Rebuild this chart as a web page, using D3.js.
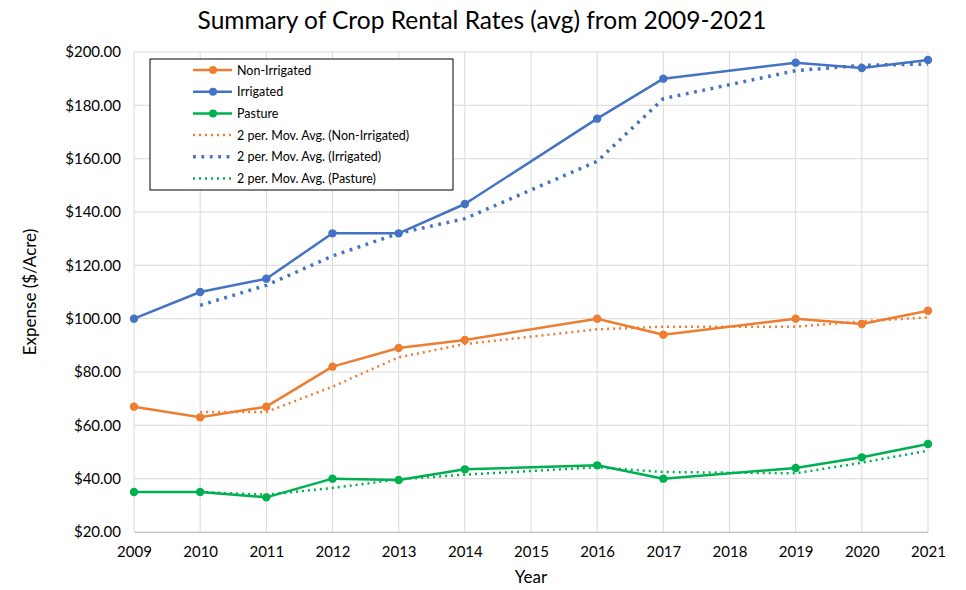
<!DOCTYPE html>
<html>
<head>
<meta charset="utf-8">
<script src="https://cdn.jsdelivr.net/npm/d3@7"></script>
<style>
  body { margin: 0; background: #fff; }
  text { font-family: Lato, "Open Sans", sans-serif; }
</style>
</head>
<body>
<div id="chart"></div>
<script>
// data (2015 and 2018 have no values)
const years = [2009, 2010, 2011, 2012, 2013, 2014, 2016, 2017, 2019, 2020, 2021];
const nonIrrigated = [67, 63, 67, 82, 89, 92, 100, 94, 100, 98, 103];
const irrigated = [100, 110, 115, 132, 132, 143, 175, 190, 196, 194, 197];
const pasture = [35, 35, 33, 40, 39.5, 43.5, 45, 40, 44, 48, 53];

// 2 period moving averages, start at 2010
const maYears = [2010, 2011, 2012, 2013, 2014, 2016, 2017, 2019, 2020, 2021];
const maNonIrrigated = [65, 65, 74.5, 85.5, 90.5, 96, 97, 97, 99, 100.5];
const maIrrigated = [105, 112.5, 123.5, 132, 137.5, 159, 182.5, 193, 195, 195.5];
const maPasture = [35, 34, 36.5, 39.75, 41.5, 44.25, 42.5, 42, 46, 50.5];

const xTicks = d3.range(2009, 2022);
const yTicks = [20, 40, 60, 80, 100, 120, 140, 160, 180, 200];

const width = 966;
const height = 590;
const margin = { top: 52, right: 38, bottom: 58, left: 134 };

const orange = "#ED7D31";
const blue = "#4472C4";
const green = "#00B050";

const svg = d3
  .select("#chart")
  .append("svg")
  .attr("width", width)
  .attr("height", height);

const x = d3
  .scaleLinear()
  .domain([2009, 2021])
  .range([margin.left, width - margin.right]);

const y = d3
  .scaleLinear()
  .domain([20, 200])
  .range([height - margin.bottom, margin.top]);

// gridlines
svg
  .append("g")
  .selectAll("line")
  .data(yTicks)
  .join("line")
  .attr("x1", x(2009))
  .attr("x2", x(2021))
  .attr("y1", (d) => y(d))
  .attr("y2", (d) => y(d))
  .attr("stroke", "#d9d9d9")
  .attr("stroke-width", 1);

svg
  .append("g")
  .selectAll("line")
  .data(xTicks)
  .join("line")
  .attr("x1", (d) => x(d))
  .attr("x2", (d) => x(d))
  .attr("y1", y(20))
  .attr("y2", y(200))
  .attr("stroke", "#d9d9d9")
  .attr("stroke-width", 1);

// axes
const xAxis = svg
  .append("g")
  .attr("transform", `translate(0, ${y(20)})`)
  .call(d3.axisBottom(x).tickValues(xTicks).tickFormat(d3.format("d")).tickSize(0).tickPadding(14));
xAxis.select(".domain").attr("stroke", "#bfbfbf");
xAxis.selectAll("text").attr("font-size", 15).attr("fill", "#000");

const yAxis = svg
  .append("g")
  .attr("transform", `translate(${x(2009)}, 0)`)
  .call(d3.axisLeft(y).tickValues(yTicks).tickFormat((d) => "$" + d3.format(".2f")(d)).tickSize(0).tickPadding(13));
yAxis.select(".domain").remove();
yAxis.selectAll("text").attr("font-size", 15).attr("fill", "#000");

// titles
svg
  .append("text")
  .text("Summary of Crop Rental Rates (avg) from 2009-2021")
  .attr("x", 482)
  .attr("y", 29)
  .attr("text-anchor", "middle")
  .attr("font-size", 24.5)
  .attr("fill", "#000");

svg
  .append("text")
  .text("Year")
  .attr("x", (x(2009) + x(2021)) / 2)
  .attr("y", 583)
  .attr("text-anchor", "middle")
  .attr("font-size", 17)
  .attr("fill", "#000");

svg
  .append("text")
  .text("Expense ($/Acre)")
  .attr("transform", `translate(36, ${(y(20) + y(200)) / 2}) rotate(-90)`)
  .attr("text-anchor", "middle")
  .attr("font-size", 17)
  .attr("fill", "#000");

const series = [
  { name: "Non-Irrigated", xs: years, values: nonIrrigated, color: orange },
  { name: "Irrigated", xs: years, values: irrigated, color: blue },
  { name: "Pasture", xs: years, values: pasture, color: green },
];

const maSeries = [
  { name: "2 per. Mov. Avg. (Non-Irrigated)", xs: maYears, values: maNonIrrigated, color: orange, w: 2.5 },
  { name: "2 per. Mov. Avg. (Irrigated)", xs: maYears, values: maIrrigated, color: blue, w: 3.5 },
  { name: "2 per. Mov. Avg. (Pasture)", xs: maYears, values: maPasture, color: green, w: 2.5 },
];

const line = d3
  .line()
  .x((d) => x(d[0]))
  .y((d) => y(d[1]));

// moving average dotted lines
maSeries.forEach((s) => {
  svg
    .append("path")
    .datum(s.xs.map((yr, i) => [yr, s.values[i]]))
    .attr("fill", "none")
    .attr("stroke", s.color)
    .attr("stroke-width", s.w)
    .attr("stroke-dasharray", `${s.w * 0.8} ${s.w * 1.6}`)
    .attr("d", line);
});

// main lines + markers
series.forEach((s) => {
  const pts = s.xs.map((yr, i) => [yr, s.values[i]]);
  svg
    .append("path")
    .datum(pts)
    .attr("fill", "none")
    .attr("stroke", s.color)
    .attr("stroke-width", 2.5)
    .attr("stroke-linejoin", "round")
    .attr("d", line);
  svg
    .append("g")
    .selectAll("circle")
    .data(pts)
    .join("circle")
    .attr("cx", (d) => x(d[0]))
    .attr("cy", (d) => y(d[1]))
    .attr("r", 4.2)
    .attr("fill", s.color);
});

// legend
const legend = svg.append("g").attr("transform", "translate(150, 59)");
legend
  .append("rect")
  .attr("width", 303)
  .attr("height", 131)
  .attr("fill", "#fff")
  .attr("stroke", "#000")
  .attr("stroke-width", 1);

const legendItems = series
  .map((s) => ({ ...s, dotted: false }))
  .concat(maSeries.map((s) => ({ ...s, dotted: true })));

const item = legend
  .selectAll("g.item")
  .data(legendItems)
  .join("g")
  .attr("class", "item")
  .attr("transform", (d, i) => `translate(0, ${11 + i * 21.7})`);

item
  .append("line")
  .attr("x1", 43)
  .attr("x2", 82)
  .attr("stroke", (d) => d.color)
  .attr("stroke-width", (d) => (d.dotted ? d.w : 2.5))
  .attr("stroke-dasharray", (d) => (d.dotted ? `${d.w * 0.8} ${d.w * 1.6}` : null));

item
  .filter((d) => !d.dotted)
  .append("circle")
  .attr("cx", 63)
  .attr("r", 4)
  .attr("fill", (d) => d.color);

item
  .append("text")
  .attr("x", 87)
  .attr("y", 4.5)
  .attr("font-size", 12.5)
  .attr("fill", "#000")
  .text((d) => d.name);
</script>
</body>
</html>
